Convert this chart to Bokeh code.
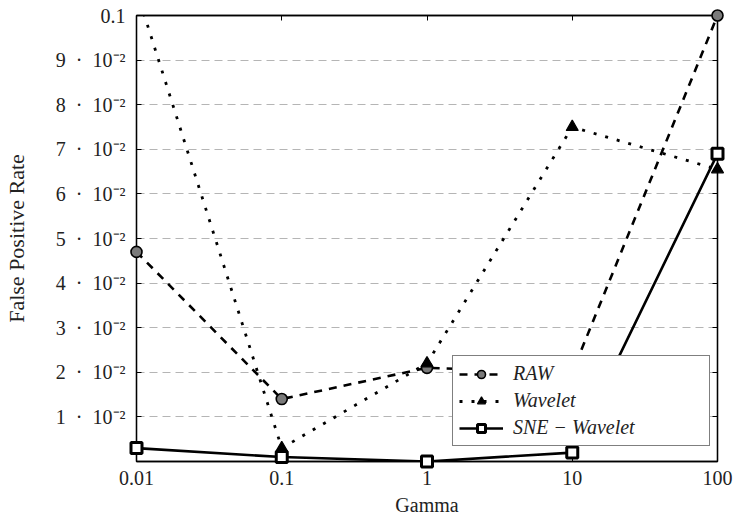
from bokeh.plotting import figure
from bokeh.models import Range1d, FixedTicker, Legend, LegendItem, LinearAxis, LogAxis
from bokeh.embed import file_html
from bokeh.resources import INLINE

# ---- data ----
gamma = [0.01, 0.1, 1, 10, 100]
raw = [0.047, 0.014, 0.021, 0.020, 0.100]
wavelet = [0.1056, 0.003, 0.022, 0.075, 0.0655]
sne_wavelet = [0.003, 0.001, 0.000, 0.002, 0.069]

x_ticks = [0.01, 0.1, 1, 10, 100]
x_tick_labels = ["0.01", "0.1", "1", "10", "100"]
y_ticks = [0.01, 0.02, 0.03, 0.04, 0.05, 0.06, 0.07, 0.08, 0.09, 0.1]
y_tick_labels = ["1\u2002·\u200210⁻²", "2\u2002·\u200210⁻²", "3\u2002·\u200210⁻²",
                 "4\u2002·\u200210⁻²", "5\u2002·\u200210⁻²", "6\u2002·\u200210⁻²",
                 "7\u2002·\u200210⁻²", "8\u2002·\u200210⁻²", "9\u2002·\u200210⁻²", "0.1"]

series_names = ["RAW", "Wavelet", "SNE − Wavelet"]

Y_MIN, Y_MAX = 0.0, 0.1
X_MIN, X_MAX = 0.01, 100

FONT = "Liberation Serif"

p = figure(width=738, height=519, x_axis_type="log",
           x_range=Range1d(X_MIN, X_MAX), y_range=Range1d(Y_MIN, Y_MAX),
           output_backend="svg", toolbar_location=None,
           min_border_left=136, min_border_right=21, min_border_top=15, min_border_bottom=58,
           background_fill_color="white", border_fill_color="white")

p.outline_line_color = "black"
p.outline_line_width = 1.3

# axes
for ax in (p.xaxis[0], p.yaxis[0]):
    ax.major_label_text_font = FONT
    ax.major_label_text_font_size = "20px"
    ax.major_label_text_color = "#222222"
    ax.axis_label_text_font = FONT
    ax.axis_label_text_font_style = "normal"
    ax.axis_label_text_color = "#222222"
    ax.major_tick_in = 5
    ax.major_tick_out = 0
    ax.minor_tick_line_color = None
    ax.axis_line_color = "black"
    ax.axis_line_width = 1.3
    ax.major_tick_line_color = "black"

p.xaxis[0].ticker = FixedTicker(ticks=x_ticks)
p.xaxis[0].major_label_overrides = dict(zip(x_ticks, x_tick_labels))
p.xaxis[0].axis_label = "Gamma"
p.xaxis[0].axis_label_text_font_size = "20px"
p.xaxis[0].major_label_standoff = 9
p.xaxis[0].axis_label_standoff = 6

p.yaxis[0].ticker = FixedTicker(ticks=y_ticks)
p.yaxis[0].major_label_overrides = dict(zip(y_ticks, y_tick_labels))
p.yaxis[0].axis_label = "False Positive Rate"
p.yaxis[0].axis_label_text_font_size = "22px"
p.yaxis[0].major_label_standoff = 11
p.yaxis[0].axis_label_standoff = 24

# mirrored ticks (top / right), no labels
top = LogAxis(ticker=FixedTicker(ticks=x_ticks), major_tick_in=5, major_tick_out=0,
              minor_tick_line_color=None, major_label_text_font_size="1px",
              major_label_text_color=None, major_label_standoff=0,
              axis_line_color="black", axis_line_width=1.3)
right = LinearAxis(ticker=FixedTicker(ticks=y_ticks), major_tick_in=5, major_tick_out=0,
                   minor_tick_line_color=None, major_label_text_font_size="1px",
                   major_label_text_color=None, major_label_standoff=0,
                   axis_line_color="black", axis_line_width=1.3)
p.add_layout(top, "above")
p.add_layout(right, "right")

p.xgrid.visible = False
p.ygrid.ticker = FixedTicker(ticks=y_ticks)
p.ygrid.grid_line_color = "#b5b5b5"
p.ygrid.grid_line_dash = "8 5"
p.ygrid.grid_line_width = 1


def inside(xs, ys):
    pts = [(x, y) for x, y in zip(xs, ys) if Y_MIN <= y <= Y_MAX]
    return [a for a, _ in pts], [b for _, b in pts]


# lines
l_raw = p.line(gamma, raw, line_color="black", line_width=2.6, line_dash="8 7")
l_wav = p.line(gamma, wavelet, line_color="black", line_width=2.8, line_dash="3 9")
l_sne = p.line(gamma, sne_wavelet, line_color="black", line_width=2.6)

# markers (drawn unclipped, like pgfplots)
xr, yr = inside(gamma, raw)
m_raw = p.scatter(xr, yr, marker="circle", size=11, fill_color="#7a7a7a",
                  line_color="black", line_width=1.6, level="overlay")
xw, yw = inside(gamma, wavelet)
m_wav = p.scatter(xw, yw, marker="triangle", size=12, fill_color="black",
                  line_color="black", line_width=1.2, level="overlay")
xs, ys = inside(gamma, sne_wavelet)
m_sne = p.scatter(xs, ys, marker="square", size=11, fill_color="white",
                  line_color="black", line_width=3, level="overlay")

legend = Legend(items=[
    LegendItem(label=series_names[0], renderers=[l_raw, m_raw]),
    LegendItem(label=series_names[1], renderers=[l_wav, m_wav]),
    LegendItem(label=series_names[2], renderers=[l_sne, m_sne]),
], location=(316, 15))
legend.label_text_font = FONT
legend.label_text_font_size = "20px"
legend.label_text_font_style = "italic"
legend.label_text_color = "#222222"
legend.glyph_width = 44
legend.glyph_height = 20
legend.label_height = 20
legend.label_width = 190
legend.label_standoff = 10
legend.spacing = 4
legend.padding = 6
legend.margin = 0
legend.border_line_color = "black"
legend.border_line_width = 1.2
legend.background_fill_color = "white"
legend.background_fill_alpha = 1
legend.level = "overlay"
p.add_layout(legend)

open("out.html", "w").write(file_html(p, INLINE))
